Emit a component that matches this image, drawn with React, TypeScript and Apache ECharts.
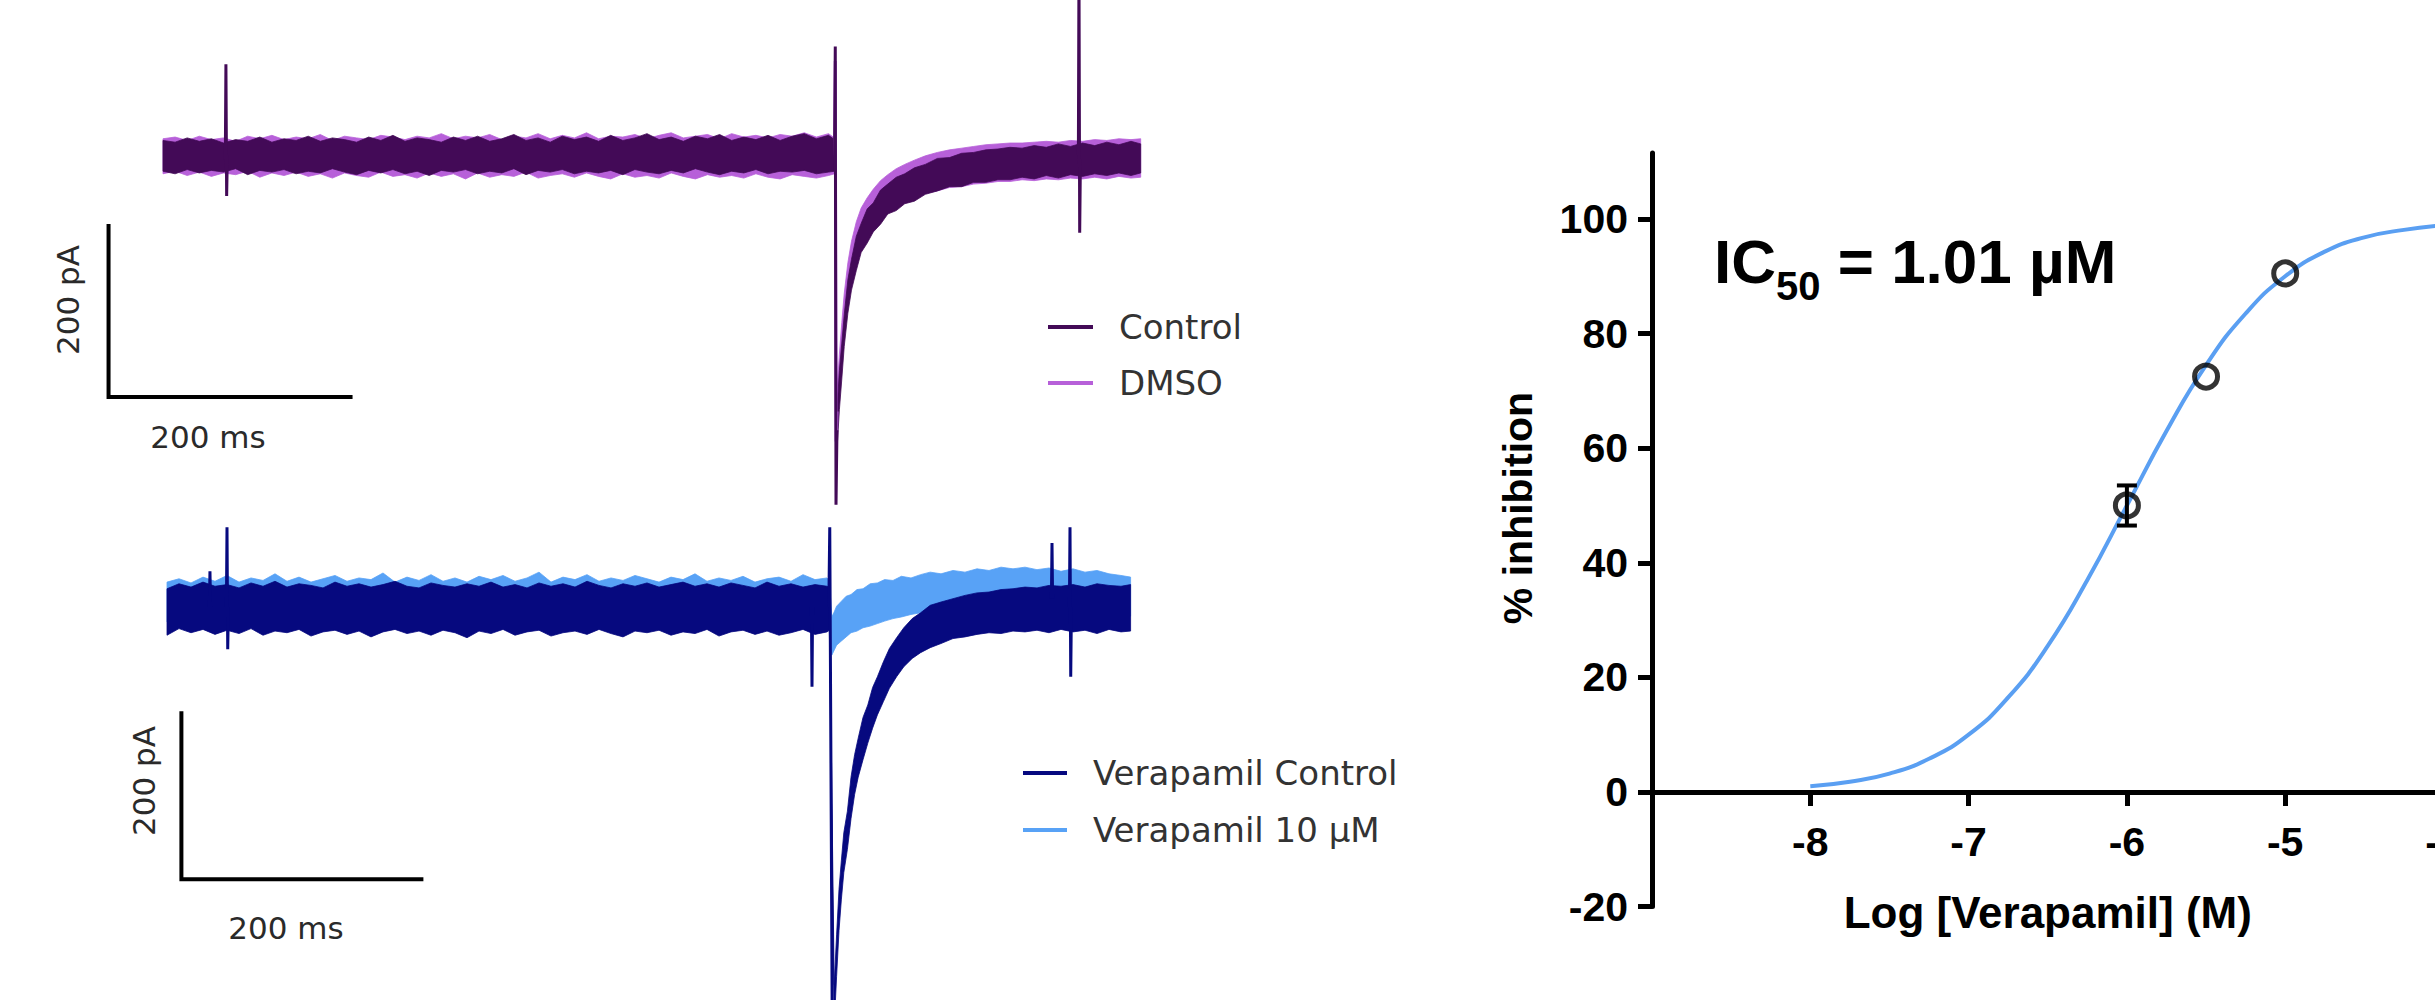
import React, { useEffect, useRef } from "react";
import * as echarts from "echarts";

// ---------------- Top-left traces: Control vs DMSO (time ms, current pA) ----------------
// each entry: [time ms, lower edge of noise band pA, upper edge pA]
const controlBand = [
  [0, -19, 17], [10, -22, 15], [20, -17, 20], [30, -21, 16], [40, -18, 19], [50, -20, 14], [60, -16, 18], [70, -23, 16], [80, -18, 21], [90, -20, 15],
  [100, -17, 19], [110, -22, 17], [120, -19, 22], [130, -21, 16], [140, -16, 20], [150, -20, 18], [160, -23, 15], [170, -18, 21], [180, -21, 17], [190, -17, 23],
  [200, -22, 16], [210, -19, 20], [220, -24, 18], [230, -18, 15], [240, -20, 21], [250, -17, 17], [260, -22, 22], [270, -19, 16], [280, -21, 19], [290, -16, 24],
  [300, -23, 17], [310, -18, 20], [320, -20, 15], [330, -17, 22], [340, -22, 18], [350, -19, 21], [360, -21, 16], [370, -18, 23], [380, -23, 17], [390, -17, 20],
  [400, -20, 25], [410, -22, 18], [420, -18, 21], [430, -21, 16], [440, -16, 22], [450, -20, 19], [460, -23, 24], [470, -19, 17], [480, -21, 21], [490, -17, 18],
  [500, -22, 23], [510, -19, 17], [520, -20, 22], [530, -18, 25], [540, -22, 19], [550, -20, 23], [555, -19, 18],
  [557, -345, -300], [559, -298, -252], [561, -262, -220], [563, -224, -187], [566, -185, -146], [569, -158, -122], [573, -135, -95], [577, -114, -80],
  [582, -103, -63], [587, -90, -56], [593, -81, -41], [599, -69, -34], [606, -65, -26], [613, -57, -22], [621, -54, -15], [630, -46, -11], [640, -42, -4],
  [650, -37, -3], [660, -37, 2], [670, -32, 3], [680, -32, 6], [690, -29, 7], [700, -29, 9], [710, -26, 8], [720, -28, 11], [730, -24, 9], [740, -27, 13],
  [750, -23, 10], [760, -25, 14], [770, -22, 11], [780, -24, 15], [790, -21, 12], [800, -24, 16], [808, -21, 13],
];
const dmsoBand = [
  [0, -22, 19], [10, -19, 21], [20, -24, 17], [30, -20, 22], [40, -25, 18], [50, -21, 20], [60, -23, 16], [70, -19, 22], [80, -26, 19], [90, -21, 23],
  [100, -24, 18], [110, -20, 21], [120, -25, 19], [130, -22, 24], [140, -27, 17], [150, -21, 22], [160, -24, 20], [170, -26, 18], [180, -20, 23], [190, -25, 21],
  [200, -23, 18], [210, -27, 22], [220, -21, 20], [230, -25, 25], [240, -22, 19], [250, -28, 22], [260, -21, 20], [270, -26, 24], [280, -23, 18], [290, -25, 22],
  [300, -20, 20], [310, -27, 25], [320, -24, 19], [330, -22, 23], [340, -26, 20], [350, -21, 26], [360, -25, 19], [370, -28, 22], [380, -22, 21], [390, -26, 24],
  [400, -24, 19], [410, -27, 23], [420, -21, 26], [430, -25, 20], [440, -28, 22], [450, -23, 24], [460, -26, 19], [470, -24, 25], [480, -27, 21], [490, -22, 23],
  [500, -26, 20], [510, -28, 24], [520, -23, 22], [530, -25, 26], [540, -27, 21], [550, -24, 25], [555, -22, 20],
  [557, -324, -278], [559, -278, -233], [561, -241, -196], [563, -207, -162], [566, -171, -126], [569, -146, -101], [573, -123, -78], [577, -106, -62],
  [582, -95, -50], [587, -84, -40], [593, -75, -30], [599, -67, -23], [606, -61, -16], [613, -55, -11], [621, -51, -6], [630, -45, -1], [640, -42, 3],
  [650, -38, 6], [660, -37, 8], [670, -34, 10], [680, -33, 12], [690, -31, 13], [700, -31, 14], [710, -29, 14], [720, -30, 15], [730, -28, 16], [740, -29, 15],
  [750, -27, 17], [760, -28, 16], [770, -26, 18], [780, -28, 17], [790, -25, 19], [800, -27, 18], [808, -26, 19],
];
// stimulus artefacts / capacitive spikes: [time ms, pA]
const controlSpikes = [
  [[51.5, -5], [52, 106], [52.6, -48], [53.2, 0]],
  [[555, 0], [555.6, 127], [556.2, -409], [557, -322]],
  [[756.5, 0], [757, 220], [757.6, -91], [758.2, -5]],
];
const dmsoSpikes = [
  [[555, 0], [555.6, 110], [556.3, -335], [557, -300]],
];

// ---------------- Bottom-left traces: Verapamil Control vs 10 µM ----------------
const verCtlBand = [
  [0, -34, 22], [10, -26, 28], [20, -31, 24], [30, -27, 30], [40, -33, 25], [50, -28, 27], [60, -32, 23], [70, -26, 29], [80, -34, 25], [90, -29, 31],
  [100, -31, 24], [110, -27, 28], [120, -35, 26], [130, -30, 23], [140, -28, 30], [150, -33, 25], [160, -29, 28], [170, -36, 24], [180, -30, 27], [190, -27, 31],
  [200, -32, 25], [210, -29, 23], [220, -34, 29], [230, -28, 26], [240, -31, 24], [250, -37, 28], [260, -29, 25], [270, -32, 30], [280, -27, 24], [290, -34, 27],
  [300, -30, 23], [310, -28, 29], [320, -35, 25], [330, -31, 28], [340, -29, 24], [350, -33, 31], [360, -27, 26], [370, -32, 23], [380, -36, 28], [390, -29, 25],
  [400, -31, 29], [410, -28, 24], [420, -34, 27], [430, -30, 30], [440, -32, 25], [450, -27, 28], [460, -35, 24], [470, -30, 29], [480, -28, 26], [490, -33, 23],
  [500, -29, 30], [510, -34, 25], [520, -31, 28], [530, -27, 24], [540, -33, 27], [550, -30, 25], [552, -28, 24],
  [556, -505, -455], [558, -445, -395], [560, -390, -340], [562, -352, -305], [564, -320, -272], [567, -292, -246], [570, -255, -205], [573, -226, -178],
  [576, -205, -158], [580, -184, -133], [584, -164, -118], [588, -146, -97], [592, -130, -84], [597, -114, -66], [602, -98, -50], [608, -84, -37],
  [614, -72, -25], [621, -62, -14], [628, -55, -7], [636, -49, 2], [645, -44, 6], [655, -38, 10], [665, -36, 14], [675, -33, 17], [685, -31, 18],
  [695, -32, 21], [705, -29, 22], [715, -30, 24], [725, -28, 23], [735, -31, 26], [745, -27, 25], [755, -30, 27], [765, -28, 24], [775, -32, 28],
  [785, -27, 26], [795, -30, 25], [803, -29, 27],
];
const ver10Band = [
  [0, -18, 30], [10, -22, 34], [20, -16, 29], [30, -20, 36], [40, -15, 31], [50, -21, 38], [60, -17, 30], [70, -23, 35], [80, -16, 32], [90, -19, 40],
  [100, -22, 31], [110, -15, 36], [120, -20, 30], [130, -24, 34], [140, -17, 38], [150, -21, 31], [160, -16, 35], [170, -22, 33], [180, -19, 41], [190, -15, 30],
  [200, -23, 36], [210, -18, 32], [220, -20, 39], [230, -16, 31], [240, -22, 35], [250, -19, 30], [260, -15, 37], [270, -21, 33], [280, -24, 38], [290, -17, 31],
  [300, -20, 35], [310, -22, 42], [320, -16, 30], [330, -19, 36], [340, -23, 33], [350, -18, 39], [360, -21, 31], [370, -15, 35], [380, -20, 32], [390, -24, 38],
  [400, -17, 34], [410, -21, 30], [420, -19, 36], [430, -16, 33], [440, -22, 40], [450, -18, 31], [460, -20, 35], [470, -23, 32], [480, -17, 37], [490, -21, 30],
  [500, -19, 34], [510, -15, 36], [520, -22, 31], [530, -18, 39], [540, -20, 33], [550, -17, 35], [552, -19, 32],
  [554, -58, -12], [556, -52, -6], [558, -46, 1], [562, -41, 7], [566, -36, 13], [570, -31, 15], [575, -29, 21], [580, -25, 22], [586, -23, 28],
  [592, -20, 29], [598, -17, 33], [605, -14, 32], [612, -12, 37], [620, -9, 35], [628, -7, 39], [636, -8, 42], [645, -4, 40], [655, -3, 44],
  [665, -5, 42], [675, -1, 46], [685, -3, 44], [695, 0, 48], [705, -1, 46], [715, 1, 48], [725, -3, 45], [735, -2, 47], [745, -5, 43], [755, -3, 46],
  [765, -7, 42], [775, -5, 44], [785, -9, 40], [795, -8, 38], [803, -11, 36],
];
const verCtlSpikes = [
  [[35.3, 0], [35.8, 43], [36.3, 0]],
  [[49.5, 0], [50, 96], [50.6, -51], [51.2, 0]],
  [[537, 0], [537.5, -96], [538, 0]],
  [[551.5, 0], [552.3, 96], [554.5, -540], [556, -480]],
  [[737, 10], [737.5, 77], [738, 10]],
  [[752, 0], [752.5, 96], [753.1, -84], [753.7, 0]],
];

// scale bars (ms, pA)
const SCALE_MS = 200;
const SCALE_PA = 200;
const topBarCorner = [-45, -283];
const botBarCorner = [12, -328];

// ---------------- Right: concentration–response ----------------
const logConc = [-6, -5.5, -5];
const inhibition = [50, 72.5, 90.5];
const sem = [3.5, 0, 0];
const fitLogConc = [-8, -7.75, -7.5, -7.25, -7, -6.75, -6.5, -6.25, -6, -5.75, -5.5, -5.25, -5, -4.75, -4.5, -4.25, -4];
const fitInhibition = [1.0, 1.8, 3.2, 5.8, 10, 16.5, 25.5, 37, 50, 63, 74.5, 83.5, 90, 94.3, 96.8, 98.1, 98.9];
const yTicks = [-20, 0, 20, 40, 60, 80, 100];
const xTicks = [-8, -7, -6, -5, -4];

const C_CONTROL = "#430a57";
const C_DMSO = "#b760d9";
const C_VCTRL = "#06097f";
const C_V10 = "#58a2f6";
const C_FIT = "#5a9ff2";
const LEFT_FONT = "DejaVu Sans";
const RIGHT_FONT = "Liberation Sans";

// right plot frame: y from -20 to 111.5 between these pixel rows; x axis drawn at y = 0
const R_TOP = 153.1;
const R_HEIGHT = 753.5;
const Y_MIN = -20;
const Y_MAX = 111.5;
const ZERO_OFFSET = -(R_HEIGHT * (0 - Y_MIN)) / (Y_MAX - Y_MIN);

function bandSeries(name: string, data: number[][], color: string, gi: number) {
  return {
    type: "custom", name, xAxisIndex: gi, yAxisIndex: gi, silent: true, clip: true,
    data, encode: { x: 0, y: [1, 2] }, itemStyle: { color },
    renderItem: (params: any, api: any) => {
      if (params.dataIndex !== 0) return null;
      const upper = data.map((d) => api.coord([d[0], d[2]]));
      const lower = data.slice().reverse().map((d) => api.coord([d[0], d[1]]));
      return {
        type: "polygon",
        shape: { points: upper.concat(lower) },
        style: { fill: color, stroke: color, lineWidth: 0.8 },
      };
    },
  };
}

function spikeSeries(list: number[][][], color: string, gi: number) {
  return list.map((s) => ({
    type: "line", xAxisIndex: gi, yAxisIndex: gi, data: s, symbol: "none", showSymbol: false,
    lineStyle: { color, width: 3 }, silent: true,
  }));
}

function scaleBar(corner: number[], gi: number) {
  return {
    type: "line", xAxisIndex: gi, yAxisIndex: gi, symbol: "none", showSymbol: false, silent: true,
    data: [[corner[0], corner[1] + SCALE_PA], [corner[0], corner[1]], [corner[0] + SCALE_MS, corner[1]]],
    lineStyle: { color: "#000", width: 4, cap: "square", join: "miter" },
  };
}

const scaleText = (text: string, x: number, y: number, rotate: boolean) => ({
  type: "text", x, y, rotation: rotate ? Math.PI / 2 : 0, silent: true,
  style: {
    text, fontFamily: LEFT_FONT, fontSize: 31, fill: "#2a2a2a",
    align: "center", verticalAlign: "middle", textAlign: "center", textVerticalAlign: "middle",
  },
});

function buildOption() {
  const hidden = { show: false };
  const legendText = (padLeft: number) => ({
    fontFamily: LEFT_FONT, fontSize: 34, color: "#333", lineHeight: 40, padding: [0, 0, 0, padLeft],
  });
  return {
    animation: false,
    backgroundColor: "#fff",
    textStyle: { fontFamily: RIGHT_FONT },
    grid: [
      { left: 17.8, top: 1.1, width: 1210, height: 530.1, outerBoundsMode: "none", containLabel: false },
      { left: 23, top: 515.7, width: 1200, height: 489.7, outerBoundsMode: "none", containLabel: false },
      { left: 1652, top: R_TOP, width: 791.5, height: R_HEIGHT, outerBoundsMode: "none", containLabel: false },
    ],
    xAxis: [
      { type: "value", gridIndex: 0, min: -120, max: 880, ...hidden },
      { type: "value", gridIndex: 1, min: -120, max: 880, ...hidden },
      {
        type: "value", gridIndex: 2, min: -9, max: -4, interval: 1, position: "bottom", offset: ZERO_OFFSET,
        axisLine: { show: true, onZero: false, lineStyle: { color: "#000", width: 5 } },
        axisTick: { show: true, length: 14, customValues: xTicks, lineStyle: { color: "#000", width: 5 } },
        axisLabel: {
          customValues: xTicks, margin: 30, color: "#000", fontFamily: RIGHT_FONT, fontWeight: "bold", fontSize: 41,
          formatter: (v: number) => (v === -9 ? "" : String(v)),
        },
        splitLine: { show: false },
        name: "Log [Verapamil] (M)", nameLocation: "middle", nameGap: 99, nameMoveOverlap: false,
        nameTextStyle: { color: "#000", fontFamily: RIGHT_FONT, fontWeight: "bold", fontSize: 44 },
      },
    ],
    yAxis: [
      { type: "value", gridIndex: 0, min: -440, max: 180, ...hidden },
      { type: "value", gridIndex: 1, min: -480, max: 110, ...hidden },
      {
        type: "value", gridIndex: 2, min: Y_MIN, max: Y_MAX, interval: 20,
        axisLine: { show: true, onZero: false, lineStyle: { color: "#000", width: 5 } },
        axisTick: { show: true, length: 14, customValues: yTicks, lineStyle: { color: "#000", width: 5 } },
        axisLabel: {
          customValues: yTicks, margin: 24, color: "#000", fontFamily: RIGHT_FONT, fontWeight: "bold", fontSize: 41,
          formatter: (v: number) => (yTicks.indexOf(v) >= 0 ? String(v) : ""),
        },
        splitLine: { show: false },
      },
    ],
    legend: [
      {
        orient: "vertical", left: 1048, top: 307, padding: 0, itemGap: 16, itemWidth: 45, itemHeight: 4,
        icon: "rect", selectedMode: false, textStyle: legendText(21),
        data: [
          { name: "Control", itemStyle: { color: C_CONTROL, borderWidth: 0 } },
          { name: "DMSO", itemStyle: { color: C_DMSO, borderWidth: 0 } },
        ],
      },
      {
        orient: "vertical", left: 1023, top: 753, padding: 0, itemGap: 17, itemWidth: 44, itemHeight: 4,
        icon: "rect", selectedMode: false, textStyle: legendText(21),
        data: [
          { name: "Verapamil Control", itemStyle: { color: C_VCTRL, borderWidth: 0 } },
          { name: "Verapamil 10 µM", itemStyle: { color: C_V10, borderWidth: 0 } },
        ],
      },
    ],
    series: [
      bandSeries("DMSO", dmsoBand, C_DMSO, 0),
      ...spikeSeries(dmsoSpikes, C_DMSO, 0),
      bandSeries("Control", controlBand, C_CONTROL, 0),
      ...spikeSeries(controlSpikes, C_CONTROL, 0),
      scaleBar(topBarCorner, 0),
      bandSeries("Verapamil 10 µM", ver10Band, C_V10, 1),
      bandSeries("Verapamil Control", verCtlBand, C_VCTRL, 1),
      ...spikeSeries(verCtlSpikes, C_VCTRL, 1),
      scaleBar(botBarCorner, 1),
      {
        type: "line", name: "fit", xAxisIndex: 2, yAxisIndex: 2, smooth: true, symbol: "none", showSymbol: false,
        data: fitLogConc.map((x, i) => [x, fitInhibition[i]]), lineStyle: { color: C_FIT, width: 4 }, z: 2, silent: true,
      },
      {
        type: "custom", name: "sem", xAxisIndex: 2, yAxisIndex: 2, z: 3, silent: true,
        data: logConc.map((x, i) => [x, inhibition[i] - sem[i], inhibition[i] + sem[i]]),
        encode: { x: 0, y: [1, 2] },
        renderItem: (_p: any, api: any) => {
          if (api.value(2) - api.value(1) <= 0) return null;
          const x = api.value(0);
          const lo = api.coord([x, api.value(1)]);
          const hi = api.coord([x, api.value(2)]);
          const cap = 10;
          const st = { stroke: "#000", lineWidth: 4 };
          return {
            type: "group",
            children: [
              { type: "line", shape: { x1: lo[0], y1: lo[1], x2: hi[0], y2: hi[1] }, style: st },
              { type: "line", shape: { x1: lo[0] - cap, y1: lo[1], x2: lo[0] + cap, y2: lo[1] }, style: st },
              { type: "line", shape: { x1: hi[0] - cap, y1: hi[1], x2: hi[0] + cap, y2: hi[1] }, style: st },
            ],
          };
        },
      },
      {
        type: "scatter", name: "mean", xAxisIndex: 2, yAxisIndex: 2, z: 4, silent: true,
        symbol: "circle", symbolSize: 23,
        data: logConc.map((x, i) => [x, inhibition[i]]),
        itemStyle: { color: "rgba(255,255,255,0)", borderColor: "#000", borderWidth: 5 },
      },
    ],
    graphic: [
      scaleText("200 pA", 68, 300, true),
      scaleText("200 ms", 208, 437, false),
      scaleText("200 pA", 144, 781, true),
      scaleText("200 ms", 286, 928, false),
      {
        type: "text", x: 1518, y: 508, rotation: Math.PI / 2, silent: true,
        style: {
          text: "% inhibition", fontFamily: RIGHT_FONT, fontWeight: "bold", fontSize: 41, fill: "#000",
          align: "center", verticalAlign: "middle", textAlign: "center", textVerticalAlign: "middle",
        },
      },
      {
        type: "text", x: 1714, y: 216, silent: true,
        style: {
          text: "{a|IC}{b|50}{a| = 1.01 µM}",
          align: "left", verticalAlign: "top", textAlign: "left", textVerticalAlign: "top",
          rich: {
            a: { fontFamily: RIGHT_FONT, fontWeight: "bold", fontSize: 62, lineHeight: 90, fill: "#000", verticalAlign: "middle" },
            b: { fontFamily: RIGHT_FONT, fontWeight: "bold", fontSize: 40, lineHeight: 40, fill: "#000", verticalAlign: "bottom" },
          },
        },
      },
    ],
  };
}

export default function App() {
  const ref = useRef<HTMLDivElement>(null);
  useEffect(() => {
    if (!ref.current) return;
    const chart = echarts.init(ref.current, undefined, { renderer: "svg" });
    chart.setOption(buildOption() as any);
    return () => chart.dispose();
  }, []);
  return (
    <div
      ref={ref}
      style={{ position: "absolute", left: 0, top: 0, width: 2435, height: 1000, background: "#fff" }}
    />
  );
}
